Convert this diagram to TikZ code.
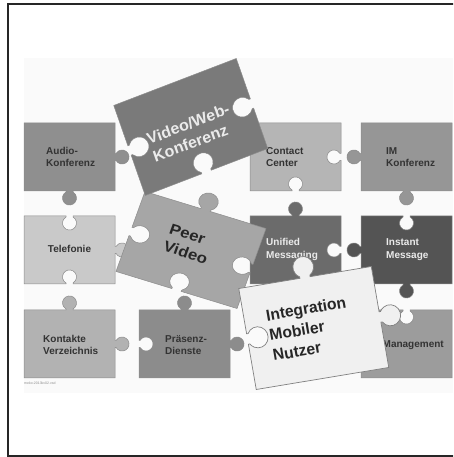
\documentclass[tikz,border=0pt]{standalone}
\usepackage{fontspec}
\setsansfont{Liberation Sans}
\usepackage{tikz}
\usetikzlibrary{calc}

\definecolor{audiogray}{gray}{0.56}
\definecolor{contactgray}{gray}{0.71}
\definecolor{imgray}{gray}{0.59}
\definecolor{telgray}{gray}{0.79}
\definecolor{unifiedgray}{gray}{0.42}
\definecolor{instantgray}{gray}{0.33}
\definecolor{kontaktgray}{gray}{0.70}
\definecolor{praesenzgray}{gray}{0.55}
\definecolor{mgmtgray}{gray}{0.61}
\definecolor{videogray}{gray}{0.48}
\definecolor{peergray}{gray}{0.65}
\definecolor{mobilgray}{gray}{0.94}

\begin{document}
\begin{tikzpicture}[x=1pt, y=1pt,
    piece/.style={draw=black!45, line width=0.5pt},
    tabside/.style 2 args={insert path={
        -- ++(#1:{(79.5+11.5*cos(2*#1))/2-3.5})
        -- ++({#1-(#2)*90}:1)
        arc[start angle={#1+(#2)*120}, end angle={#1+(#2)*420}, radius=7]
        -- ++({#1+(#2)*90}:1)
        -- ++(#1:{(79.5+11.5*cos(2*#1))/2-3.5})}},
    plainside/.style={insert path={-- ++(#1:{79.5+11.5*cos(2*#1)})}},
    cardtext/.style={font=\sffamily\bfseries\fontsize{10}{12.5}\selectfont, align=left, inner sep=0pt, text=black!80},
    whitetext/.style={cardtext, text=white!92!black},
]
\useasboundingbox (0,0) rectangle (453,457);
\clip (0,0) rectangle (453,457);
\fill[black!2] (24,64) rectangle (453,399);

% Grid pieces, top row
\draw[piece, fill=audiogray] (24,266) [tabside={0}{1}] [tabside={90}{1}] [plainside=180] [plainside=270] -- cycle;
\draw[piece, fill=contactgray] (250,266) [tabside={0}{-1}] [tabside={90}{-1}] [plainside=180] [plainside=270] -- cycle;
\draw[piece, fill=imgray] (361,266) [tabside={0}{1}] [plainside=90] [plainside=180] [tabside={270}{1}] -- cycle;

% Grid pieces, middle row
\draw[piece, fill=telgray] (24,173) [tabside={0}{-1}] [tabside={90}{1}] [tabside={180}{-1}] [plainside=270] -- cycle;
\draw[piece, fill=unifiedgray] (250,173) [plainside=0] [tabside={90}{-1}] [tabside={180}{1}] [plainside=270] -- cycle;
\draw[piece, fill=instantgray] (361,173) [tabside={0}{1}] [plainside=90] [tabside={180}{-1}] [tabside={270}{1}] -- cycle;

% Grid pieces, bottom row
\draw[piece, fill=kontaktgray] (24,79) [plainside=0] [tabside={90}{1}] [tabside={180}{1}] [plainside=270] -- cycle;
\draw[piece, fill=praesenzgray] (139,79) [plainside=0] [tabside={90}{1}] [tabside={180}{1}] [tabside={270}{-1}] -- cycle;
\draw[piece, fill=mgmtgray] (361,79) [plainside=0] [plainside=90] [tabside={180}{-1}] [plainside=270] -- cycle;

% Grid labels
\node[cardtext, anchor=west] (audio) at (46,300) {Audio-\\Konferenz};
\node[cardtext, anchor=west] (contact) at (266,300) {Contact\\Center};
\node[cardtext, anchor=west] (imkonf) at (386,300) {IM\\Konferenz};
\node[cardtext] (telefonie) at (69.5,208) {Telefonie};
\node[whitetext, anchor=west] (unified) at (266,207.5) {Unified\\Messaging};
\node[whitetext, anchor=west] (instant) at (386,207.5) {Instant\\Message};
\node[cardtext, anchor=west] (kontakte) at (43,112) {Kontakte\\Verzeichnis};
\node[cardtext, anchor=west] (praesenz) at (165,112) {Präsenz-\\Dienste};
\node[cardtext, anchor=east] (management) at (444,112) {Management};
\node[font=\sffamily\fontsize{3.5}{4}\selectfont, text=black!45, anchor=west, inner sep=0pt] (fileref) at (24,74) {meko-2013kv02.vsd};

% Loose pieces
\begin{scope}[cm={1.330,-0.407,0.426,1.176,(191,207)}]
  \draw[piece, fill=peergray] (-45.5,-34) [tabside={0}{-1}] [tabside={90}{-1}] [tabside={180}{1}] [tabside={270}{-1}] -- cycle;
  \node[cardtext, transform shape, font=\sffamily\bfseries\fontsize{12}{14.5}\selectfont, text=black!85] (peervideo) at (-3,4) {Peer\\Video};
\end{scope}
\begin{scope}[cm={1.346,0.516,-0.463,1.324,(190.75,330)}]
  \draw[piece, fill=videogray] (-45.5,-34) [tabside={0}{-1}] [tabside={90}{-1}] [plainside=180] [tabside={270}{-1}] -- cycle;
  \node[whitetext, transform shape, font=\sffamily\bfseries\fontsize{11.2}{13.5}\selectfont] (videoweb) at (-1,-4) {Video/Web-\\Konferenz};
\end{scope}
\begin{scope}[cm={1.456,0.242,-0.257,1.485,(313.75,129)}]
  \draw[piece, draw=black!50, line width=0.7pt, fill=mobilgray] (-45.5,-34) [plainside=0] [tabside={90}{1}] [tabside={180}{1}] [tabside={270}{-1}] -- cycle;
  \node[cardtext, transform shape, font=\sffamily\bfseries\fontsize{10.6}{13.4}\selectfont, text=black!85] (integration) at (-3,0) {Integration\\Mobiler\\Nutzer};
\end{scope}

% Frame
\draw[black!85, line width=2pt] (460,453) -- (8,453) -- (8,1.2) -- (460,1.2);
\end{tikzpicture}
\end{document}
